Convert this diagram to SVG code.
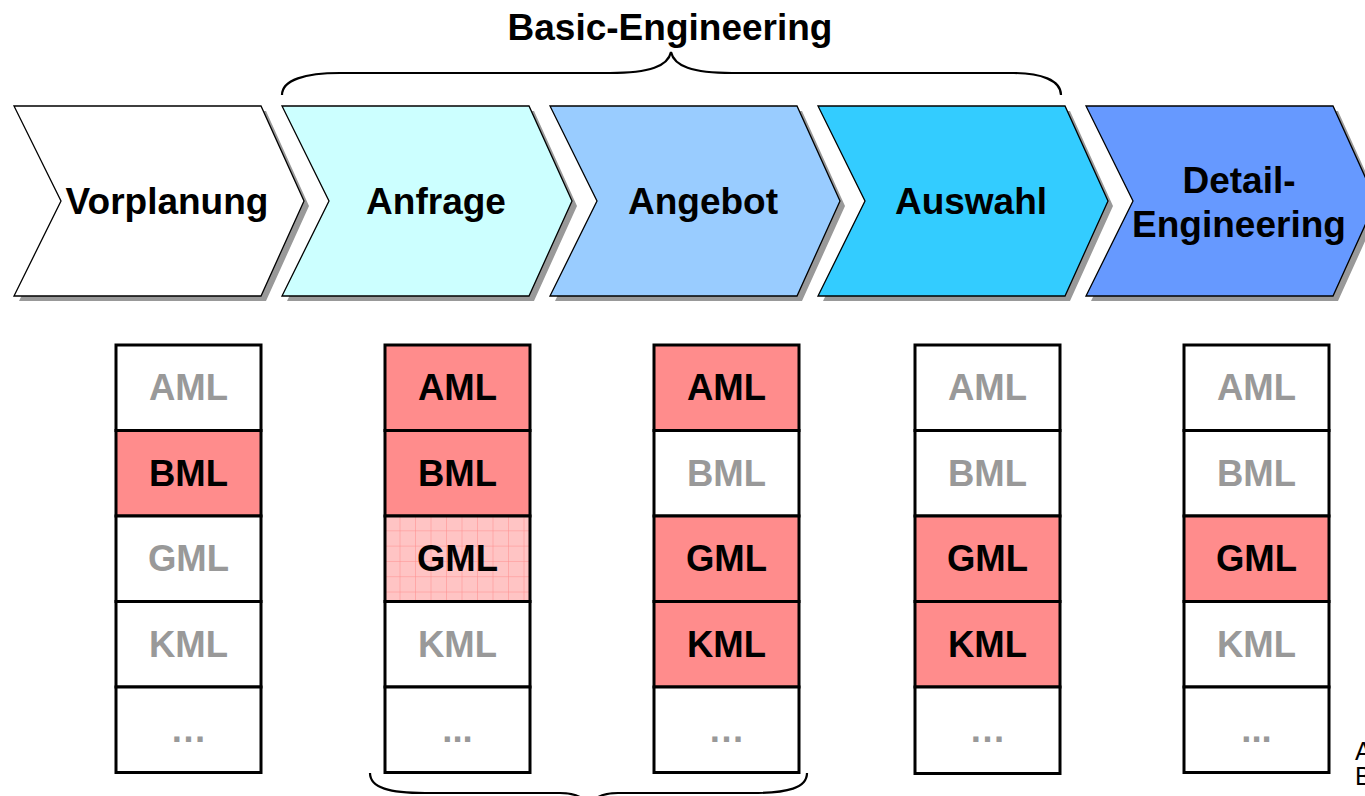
<svg xmlns="http://www.w3.org/2000/svg" xmlns:xlink="http://www.w3.org/1999/xlink" width="1365" height="796" viewBox="0 0 1365 796">
  <style>
    .lbl { font-family: "Liberation Sans", Arial, sans-serif; font-weight: bold; text-anchor: middle; }
    .phase { font-size: 37px; fill: #000; }
    .cell { stroke: #000; stroke-width: 3; }
    .on { fill: #FF8C8C; }
    .off { fill: #FFFFFF; }
    .ct { font-size: 36.5px; }
    .dark { fill: #000; }
    .gray { fill: #999999; }
    .brace { fill: none; stroke: #000; stroke-width: 2.2; }
  </style>
  <defs>
    <path id="chev" d="M0,106 L247,106 L290,201 L247,296 L0,296 L47,201 Z"/>
    <pattern id="grid" patternUnits="userSpaceOnUse" x="385" y="516" width="15.5" height="15.3">
      <rect width="15.5" height="15.3" fill="#FFC4C4"/>
      <path d="M15.5,0 V15.3 M0,15.3 H15.5" stroke="#FF8C8C" stroke-width="1" fill="none"/>
    </pattern>
  </defs>

  <rect width="1365" height="796" fill="#fff"/>

  <!-- heading and braces -->
  <text class="lbl phase" x="670" y="40">Basic-Engineering</text>
  <g id="braces">
    <path class="brace" d="M282,95 C282,80 305,73 340,73 L610,73 C650,73 668,66 671,52 C674,66 692,73 732,73 L1014,73 C1040,73 1061,80 1061,95"/>
    <path class="brace" d="M370,773 C370,788 390,793 425,793 L560,793 C580,793 588,800 589,812 C590,800 598,793 618,793 L752,793 C788,793 807,788 807,773"/>
  </g>

  <!-- process chevrons -->
  <g id="phase-vorplanung">
    <use xlink:href="#chev" transform="translate(19,5)" fill="#999"/>
    <use xlink:href="#chev" transform="translate(14,0)" fill="#FFFFFF" stroke="#000" stroke-width="1.3"/>
    <text class="lbl phase" x="167" y="214">Vorplanung</text>
  </g>
  <g id="phase-anfrage">
    <use xlink:href="#chev" transform="translate(287,5)" fill="#999"/>
    <use xlink:href="#chev" transform="translate(282,0)" fill="#CCFFFF" stroke="#000" stroke-width="1.3"/>
    <text class="lbl phase" x="436" y="214">Anfrage</text>
  </g>
  <g id="phase-angebot">
    <use xlink:href="#chev" transform="translate(555,5)" fill="#999"/>
    <use xlink:href="#chev" transform="translate(550,0)" fill="#99CCFF" stroke="#000" stroke-width="1.3"/>
    <text class="lbl phase" x="703" y="214">Angebot</text>
  </g>
  <g id="phase-auswahl">
    <use xlink:href="#chev" transform="translate(823,5)" fill="#999"/>
    <use xlink:href="#chev" transform="translate(818,0)" fill="#33CCFF" stroke="#000" stroke-width="1.3"/>
    <text class="lbl phase" x="971" y="214">Auswahl</text>
  </g>
  <g id="phase-detail">
    <use xlink:href="#chev" transform="translate(1091,5)" fill="#999"/>
    <use xlink:href="#chev" transform="translate(1086,0)" fill="#6699FF" stroke="#000" stroke-width="1.3"/>
    <text class="lbl phase" x="1239" y="193">Detail-</text>
    <text class="lbl phase" x="1239" y="237">Engineering</text>
  </g>

  <!-- column 1 -->
  <g id="col-vorplanung">
    <rect class="cell off" x="116" y="345" width="145" height="85.5"/>
    <rect class="cell on" x="116" y="430.5" width="145" height="85.5"/>
    <rect class="cell off" x="116" y="516" width="145" height="85.5"/>
    <rect class="cell off" x="116" y="601.5" width="145" height="85.5"/>
    <rect class="cell off" x="116" y="687" width="145" height="85.5"/>
    <text class="lbl ct gray" x="188.5" y="400">AML</text>
    <text class="lbl ct dark" x="188.5" y="486">BML</text>
    <text class="lbl ct gray" x="188.5" y="571">GML</text>
    <text class="lbl ct gray" x="188.5" y="657">KML</text>
    <text class="lbl ct gray" x="188.5" y="742">…</text>
  </g>

  <!-- column 2 -->
  <g id="col-anfrage">
    <rect class="cell on" x="385" y="345" width="145" height="85.5"/>
    <rect class="cell on" x="385" y="430.5" width="145" height="85.5"/>
    <rect class="cell" x="385" y="516" width="145" height="85.5" fill="url(#grid)"/>
    <rect class="cell off" x="385" y="601.5" width="145" height="85.5"/>
    <rect class="cell off" x="385" y="687" width="145" height="85.5"/>
    <text class="lbl ct dark" x="457.5" y="400">AML</text>
    <text class="lbl ct dark" x="457.5" y="486">BML</text>
    <text class="lbl ct dark" x="457.5" y="571">GML</text>
    <text class="lbl ct gray" x="457.5" y="657">KML</text>
    <text class="lbl ct gray" x="457.5" y="742">...</text>
  </g>

  <!-- column 3 -->
  <g id="col-angebot">
    <rect class="cell on" x="654" y="345" width="145" height="85.5"/>
    <rect class="cell off" x="654" y="430.5" width="145" height="85.5"/>
    <rect class="cell on" x="654" y="516" width="145" height="85.5"/>
    <rect class="cell on" x="654" y="601.5" width="145" height="85.5"/>
    <rect class="cell off" x="654" y="687" width="145" height="85.5"/>
    <text class="lbl ct dark" x="726.5" y="400">AML</text>
    <text class="lbl ct gray" x="726.5" y="486">BML</text>
    <text class="lbl ct dark" x="726.5" y="571">GML</text>
    <text class="lbl ct dark" x="726.5" y="657">KML</text>
    <text class="lbl ct gray" x="726.5" y="742">…</text>
  </g>

  <!-- column 4 -->
  <g id="col-auswahl">
    <rect class="cell off" x="915" y="345" width="145" height="85.5"/>
    <rect class="cell off" x="915" y="430.5" width="145" height="85.5"/>
    <rect class="cell on" x="915" y="516" width="145" height="85.5"/>
    <rect class="cell on" x="915" y="601.5" width="145" height="85.5"/>
    <rect class="cell off" x="915" y="687" width="145" height="86.5"/>
    <text class="lbl ct gray" x="987.5" y="400">AML</text>
    <text class="lbl ct gray" x="987.5" y="486">BML</text>
    <text class="lbl ct dark" x="987.5" y="571">GML</text>
    <text class="lbl ct dark" x="987.5" y="657">KML</text>
    <text class="lbl ct gray" x="987.5" y="742">…</text>
  </g>

  <!-- column 5 -->
  <g id="col-detail">
    <rect class="cell off" x="1184" y="345" width="145" height="85.5"/>
    <rect class="cell off" x="1184" y="430.5" width="145" height="85.5"/>
    <rect class="cell on" x="1184" y="516" width="145" height="85.5"/>
    <rect class="cell off" x="1184" y="601.5" width="145" height="85.5"/>
    <rect class="cell off" x="1184" y="687" width="145" height="85.5"/>
    <text class="lbl ct gray" x="1256.5" y="400">AML</text>
    <text class="lbl ct gray" x="1256.5" y="486">BML</text>
    <text class="lbl ct dark" x="1256.5" y="571">GML</text>
    <text class="lbl ct gray" x="1256.5" y="657">KML</text>
    <text class="lbl ct gray" x="1256.5" y="742">...</text>
  </g>

  <!-- legend fragment at the right edge -->
  <g id="legend">
    <text x="1355" y="760" font-family="Liberation Sans, Arial, sans-serif" font-size="25">A</text>
    <text x="1355" y="785" font-family="Liberation Sans, Arial, sans-serif" font-size="25">B</text>
  </g>
</svg>
